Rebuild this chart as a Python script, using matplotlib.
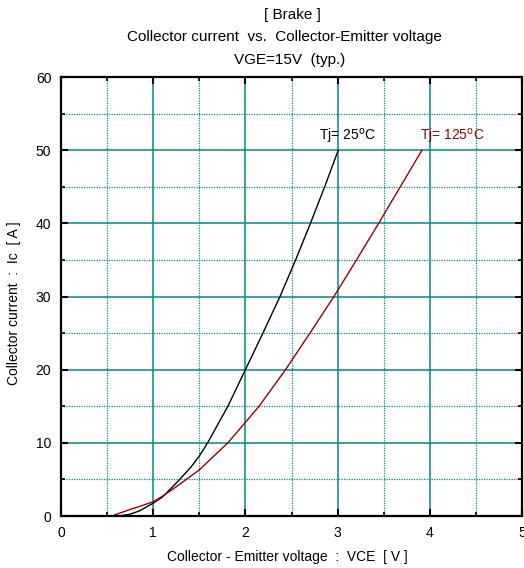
import matplotlib
matplotlib.use('Agg')
import matplotlib.pyplot as plt
from matplotlib.ticker import MultipleLocator

plt.rcParams['font.family'] = ['Liberation Sans', 'DejaVu Sans']

# Tj = 25 C curve
vce_25 = [0.58, 0.65, 0.75, 0.85, 1.0, 1.1, 1.25, 1.41, 1.5, 1.59, 1.81, 2.0, 2.19, 2.375, 2.545, 2.705, 2.86, 3.007]
ic_25 = [0.0, 0.05, 0.25, 0.7, 1.75, 2.6, 4.5, 6.7, 8.2, 10.0, 15.0, 20.0, 25.0, 30.0, 35.0, 40.0, 45.0, 50.0]

# Tj = 125 C curve
vce_125 = [0.55, 0.65, 0.75, 0.85, 1.0, 1.1, 1.25, 1.5, 1.65, 1.81, 2.148, 2.435, 2.70, 2.96, 3.205, 3.445, 3.68, 3.915]
ic_125 = [0.0, 0.45, 0.9, 1.3, 1.95, 2.7, 4.0, 6.3, 8.1, 10.0, 15.0, 20.0, 25.0, 30.0, 35.0, 40.0, 45.0, 50.0]

title_lines = ['[ Brake ]', 'Collector current  vs.  Collector-Emitter voltage', 'VGE=15V  (typ.)']
title_x = [292, 284.5, 290]

grid_col = '#008a8a'
red = '#9b0000'

fig = plt.figure(figsize=(5.24, 5.68), dpi=100)
ax = fig.add_axes([0.1164, 0.0915, 0.8798, 0.7729])

ax.set_xlim(0, 5)
ax.set_ylim(0, 60)
ax.xaxis.set_major_locator(MultipleLocator(1))
ax.xaxis.set_minor_locator(MultipleLocator(0.5))
ax.yaxis.set_major_locator(MultipleLocator(10))
ax.yaxis.set_minor_locator(MultipleLocator(5))

ax.grid(True, which='major', color=grid_col, linewidth=1.1, linestyle='-')
ax.grid(True, which='minor', color=grid_col, linewidth=0.9, linestyle=(0, (1, 1)))
ax.set_axisbelow(True)

ax.tick_params(which='both', direction='in', top=True, right=True, labelsize=10, colors='black')
ax.tick_params(which='major', length=5, width=1.5, pad=7)
ax.tick_params(which='minor', length=3, width=1.2)
for s in ax.spines.values():
    s.set_linewidth(1.6)

ax.plot(vce_25, ic_25, color='black', linewidth=1.0)
ax.plot(vce_125, ic_125, color=red, linewidth=1.0)

ax.text(3.11, 51.9, r'Tj= 25$^{\rm o}$C', ha='center', va='center', fontsize=10, color='black')
ax.text(4.245, 51.9, r'Tj= 125$^{\rm o}$C', ha='center', va='center', fontsize=10, color=red)

ax.set_xlabel('Collector - Emitter voltage  :  VCE  [ V ]', fontsize=10)
ax.set_ylabel('Collector current  :  Ic  [ A ]', fontsize=10)
ax.xaxis.set_label_coords(0.490, -0.077)
ax.yaxis.set_label_coords(-0.086, 0.485)

for i, line in enumerate(title_lines):
    fig.text(title_x[i] / 524, 1 - (15 + i * 22.5) / 568, line, ha='center', va='center', fontsize=11)

fig.savefig('out.png', dpi=100)
